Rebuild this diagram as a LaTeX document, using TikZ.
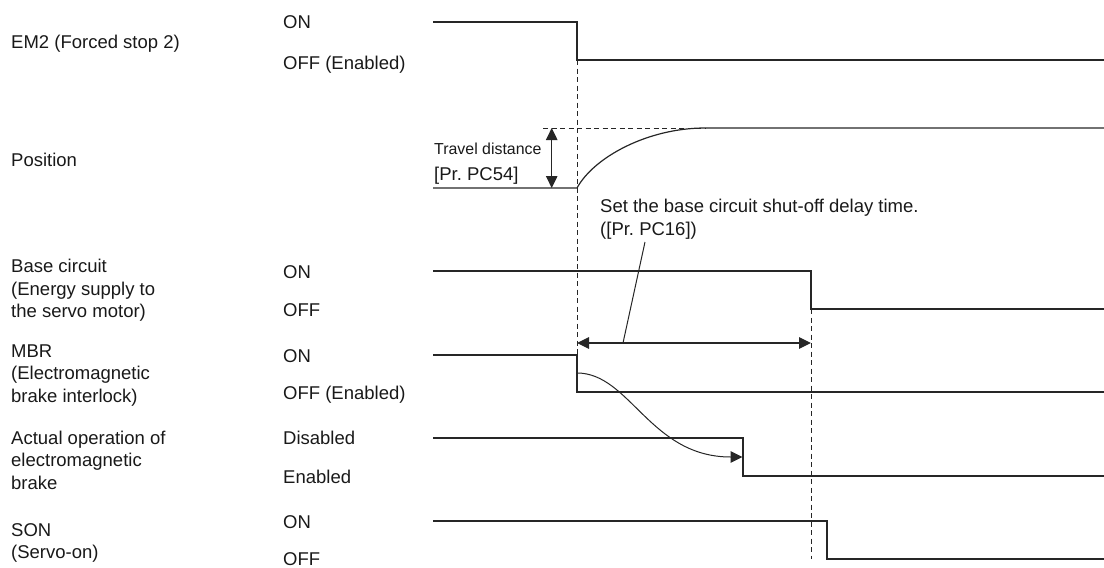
\documentclass[tikz,border=0pt]{standalone}
\usepackage{fontspec}
\setmainfont{Liberation Sans}
\usetikzlibrary{arrows.meta}
\frenchspacing
\begin{document}
\begin{tikzpicture}[x=1pt,y=-1pt,
  sig/.style={line width=1.2pt, draw=black!85, line join=miter},
  guide/.style={line width=1pt, draw=black!85, dash pattern=on 5pt off 3.5pt},
  tip/.tip={Triangle[length=12pt,width=11.5pt]},
  dimarrow/.style={line width=1.2pt, draw=black!85, tip-tip},
  lbl/.style={anchor=west, inner sep=0pt, align=left, font=\fontsize{18.5}{22.5}\selectfont, text=black!90},
  state/.style={anchor=west, inner sep=0pt, font=\fontsize{18.5}{22.5}\selectfont, text=black!90, text height=13.4pt, text depth=0pt},
]
\useasboundingbox (0,0) rectangle (1104,568);

% ---- left labels
\node[state] (lem2) at (11,42) {EM2 (Forced stop 2)};
\node[state] (lpos) at (11,160) {Position};
\node[lbl] (lbase) at (11,290.5) {Base circuit\\(Energy supply to\\the servo motor)};
\node[lbl] (lmbr) at (11,375.5) {MBR\\(Electromagnetic\\brake interlock)};
\node[lbl] (lbrake) at (11,460) {Actual operation of\\electromagnetic\\brake};
\node[lbl] (lson) at (11,543) {SON\\(Servo-on)};

% ---- state labels
\node[state] (s1) at (283,22) {ON};
\node[state] (s2) at (283,63) {OFF (Enabled)};
\node[state] (s3) at (283,272) {ON};
\node[state] (s4) at (283,310) {OFF};
\node[state] (s5) at (283,356) {ON};
\node[state] (s6) at (283,393) {OFF (Enabled)};
\node[state] (s7) at (283,438) {Disabled};
\node[state] (s8) at (283,477) {Enabled};
\node[state] (s9) at (283,522) {ON};
\node[state] (s10) at (283,559) {OFF};

% ---- signals
\draw[sig] (433,22) -- (577,22) -- (577,60) -- (1104,60);
\draw[sig] (433,188) -- (577,188) .. controls (594,157) and (648,128) .. (705,128) -- (1104,128);
\draw[sig] (433,271) -- (811,271) -- (811,309) -- (1104,309);
\draw[sig] (433,355) -- (577,355) -- (577,392) -- (1104,392);
\draw[sig] (433,438) -- (743,438) -- (743,476) -- (1104,476);
\draw[sig] (433,521) -- (827,521) -- (827,559) -- (1104,559);

% ---- guide lines
\draw[guide] (577,60) -- (577,355);
\draw[guide] (811,309) -- (811,559);
\draw[guide] (543,128) -- (705,128);

% ---- travel distance
\coordinate (tdtop) at (551.7,128);
\coordinate (tdbot) at (551.7,188);
\draw[dimarrow] (tdtop) -- (tdbot);
\node[anchor=west, inner sep=0pt, font=\fontsize{15.9}{19}\selectfont, text=black!90, text height=11.5pt, text depth=0pt] (td1) at (434,148.3) {Travel distance};
\node[state] (td2) at (434,173.3) {[Pr. PC54]};

% ---- delay time dimension
\coordinate (dl) at (577,343);
\coordinate (dr) at (811,343);
\coordinate (lead) at (623,343);
\coordinate (leadtop) at (645,242);
\draw[dimarrow] (dl) -- (dr);
\draw[line width=1pt, draw=black!85] (lead) -- (leadtop);
\node[lbl] (delay) at (600,219) {Set the base circuit shut-off delay time.\\([Pr. PC16])};

% ---- MBR to brake curve
\coordinate (cs) at (577,373);
\coordinate (ce) at (742.5,457);
\draw[line width=1pt, draw=black!85, -tip] (cs) .. controls (630,373) and (650,457) .. (ce);
\end{tikzpicture}
\end{document}
